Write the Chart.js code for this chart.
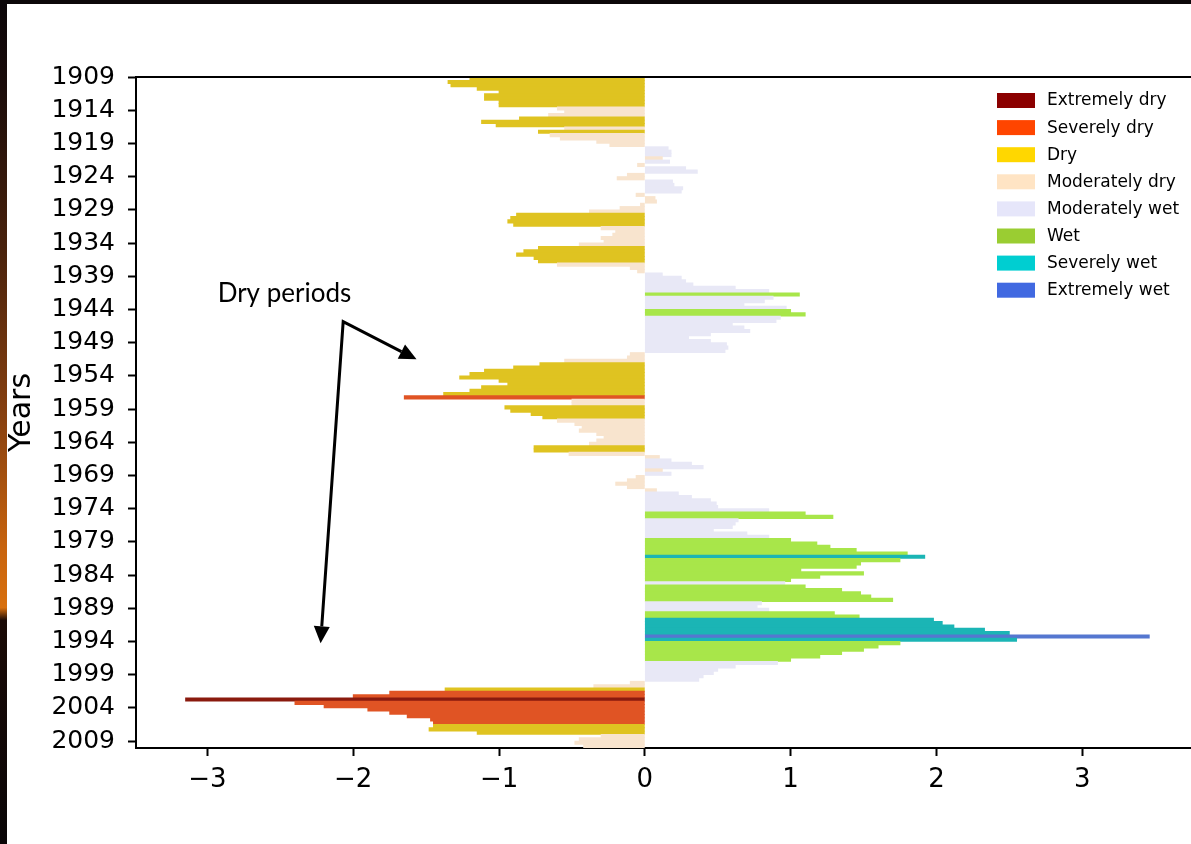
<!DOCTYPE html>
<html>
<head>
<meta charset="utf-8">
<title>Dry and wet periods 1909-2009</title>
<script src="https://cdn.jsdelivr.net/npm/chart.js@4.4.1/dist/chart.umd.min.js"></script>
<style>
  html, body { margin: 0; padding: 0; background: #fff; overflow: hidden; }
  #wrap { position: relative; width: 1191px; height: 844px; }
  #spiChart { position: absolute; left: 0; top: 0; }
  #frameLeft {
    position: absolute; left: 0; top: 0; width: 7px; height: 844px;
    background: linear-gradient(to bottom, #0b0609 0%, #1a0c0a 10%, #4a220c 30%, #8a4210 50%,
      #c8640e 65%, #d8700e 72%, #1a0a06 73.5%, #0a0607 100%);
  }
  #frameTop { position: absolute; left: 0; top: 0; width: 1191px; height: 4px; background: #0c0709; }
</style>
</head>
<body>
<div id="wrap">
  <canvas id="spiChart" width="1191" height="844"></canvas>
  <div id="frameLeft"></div>
  <div id="frameTop"></div>
</div>
<script>
// Half-year steps, first bar starts in 1909
const startYear = 1909;
const stepsPerYear = 2;

// Index value for each half year
const spiValues = [
  -1.2, -1.35, -1.33, -1.15, -1.0, -1.1, -1.1, -1.0, -1.0, -0.6,
  -0.55, -0.66, -0.86, -1.12, -1.02, -0.55, -0.73, -0.65, -0.58, -0.33,
  -0.24, 0.16, 0.18, 0.18, 0.12, 0.17, -0.05, 0.28, 0.36, -0.12,
  -0.19, 0.19, 0.2, 0.26, 0.25, -0.06, 0.07, 0.08, -0.03, -0.17,
  -0.38, -0.88, -0.92, -0.94, -0.9, -0.3, -0.2, -0.22, -0.3, -0.28,
  -0.45, -0.73, -0.83, -0.88, -0.76, -0.73, -0.6, -0.1, -0.05, 0.12,
  0.25, 0.28, 0.33, 0.62, 0.85, 1.06, 0.88, 0.82, 0.68, 0.97,
  1.0, 1.1, 0.93, 0.9, 0.6, 0.68, 0.72, 0.45, 0.3, 0.45,
  0.56, 0.57, 0.55, -0.1, -0.12, -0.55, -0.72, -0.9, -1.1, -1.2,
  -1.27, -1.0, -0.94, -1.12, -1.2, -1.38, -1.65, -0.5, -0.5, -0.96,
  -0.92, -0.78, -0.7, -0.6, -0.48, -0.43, -0.45, -0.33, -0.28, -0.33,
  -0.38, -0.76, -0.76, -0.52, 0.1, 0.18, 0.32, 0.4, 0.12, 0.18,
  -0.06, -0.12, -0.2, -0.12, 0.08, 0.23, 0.32, 0.45, 0.49, 0.5,
  0.85, 1.1, 1.29, 0.64, 0.62, 0.6, 0.47, 0.7, 0.85, 1.0,
  1.18, 1.27, 1.45, 1.8, 1.92, 1.75, 1.48, 1.45, 1.07, 1.5,
  1.2, 1.0, 0.96, 1.1, 1.35, 1.48, 1.55, 1.7, 0.8, 0.77,
  0.85, 1.3, 1.47, 1.98, 2.04, 2.12, 2.33, 2.5, 3.46, 2.55,
  1.75, 1.6, 1.5, 1.35, 1.2, 1.0, 0.91, 0.62, 0.5, 0.47,
  0.4, 0.37, -0.1, -0.35, -1.37, -1.75, -2.0, -3.15, -2.4, -2.2,
  -1.9, -1.75, -1.63, -1.47, -1.45, -1.45, -1.48, -1.15, -0.3, -0.45,
  -0.48, -0.42
];

// Class of each half year
const spiClass = [
  'D', 'D', 'D', 'D', 'D', 'D', 'D', 'D', 'D', 'MD',
  'MD', 'MD', 'D', 'D', 'D', 'MD', 'D', 'MD', 'MD', 'MD',
  'MD', 'MW', 'MW', 'MW', 'MD', 'MW', 'MD', 'MW', 'MW', 'MD',
  'MD', 'MW', 'MW', 'MW', 'MW', 'MD', 'MD', 'MD', 'MD', 'MD',
  'MD', 'D', 'D', 'D', 'D', 'MD', 'MD', 'MD', 'MD', 'MD',
  'MD', 'D', 'D', 'D', 'D', 'D', 'MD', 'MD', 'MD', 'MW',
  'MW', 'MW', 'MW', 'MW', 'MW', 'W', 'MW', 'MW', 'MW', 'MW',
  'W', 'W', 'MW', 'MW', 'MW', 'MW', 'MW', 'MW', 'MW', 'MW',
  'MW', 'MW', 'MW', 'MD', 'MD', 'MD', 'D', 'D', 'D', 'D',
  'D', 'D', 'D', 'D', 'D', 'D', 'SD', 'MD', 'MD', 'D',
  'D', 'D', 'D', 'MD', 'MD', 'MD', 'MD', 'MD', 'MD', 'MD',
  'MD', 'D', 'D', 'MD', 'MD', 'MW', 'MW', 'MW', 'MD', 'MW',
  'MD', 'MD', 'MD', 'MD', 'MD', 'MW', 'MW', 'MW', 'MW', 'MW',
  'MW', 'W', 'W', 'MW', 'MW', 'MW', 'MW', 'MW', 'MW', 'W',
  'W', 'W', 'W', 'W', 'SW', 'W', 'W', 'W', 'W', 'W',
  'W', 'W', 'MW', 'W', 'W', 'W', 'W', 'W', 'MW', 'MW',
  'MW', 'W', 'W', 'SW', 'SW', 'SW', 'SW', 'SW', 'EW', 'SW',
  'W', 'W', 'W', 'W', 'W', 'W', 'MW', 'MW', 'MW', 'MW',
  'MW', 'MW', 'MD', 'MD', 'D', 'SD', 'SD', 'ED', 'SD', 'SD',
  'SD', 'SD', 'SD', 'SD', 'SD', 'D', 'D', 'D', 'MD', 'MD',
  'MD', 'MD'
];

const classCodes = ['ED', 'SD', 'D', 'MD', 'MW', 'W', 'SW', 'EW'];
const classNames = ['Extremely dry', 'Severely dry', 'Dry', 'Moderately dry',
  'Moderately wet', 'Wet', 'Severely wet', 'Extremely wet'];

const yearTicks = [1909, 1914, 1919, 1924, 1929, 1934, 1939, 1944, 1949, 1954,
  1959, 1964, 1969, 1974, 1979, 1984, 1989, 1994, 1999, 2004, 2009];
const spiTicks = [-3, -2, -1, 0, 1, 2, 3];

// "Dry periods" note and its arrows, in data units
const noteText = 'Dry periods';
const notePos = { x: -2.93, y: 1942.9 };
const arrowStart = { x: -2.069, y: 1945.85 };
const arrowTips = [{ x: -1.566, y: 1951.52 }, { x: -2.224, y: 1994.29 }];

// colours: the bars look a little duller than the legend keys
const barColors = { ED: '#8a1a0e', SD: '#e05424', D: '#dfc321', MD: '#f8e4ce',
  MW: '#e8e8f6', W: '#a8e64a', SW: '#1bb5b5', EW: '#5577d0' };
const legendColors = { ED: '#8b0000', SD: '#ff4500', D: '#ffd700', MD: '#ffe4c4',
  MW: '#e6e6fa', W: '#9acd32', SW: '#00ced1', EW: '#4169e1' };

const barData = spiValues.map((v, i) => ({ x: v, y: startYear + (i + 0.5) / stepsPerYear }));

Chart.defaults.font.family = "'DejaVu Sans', sans-serif";
Chart.defaults.color = '#000';

// top spine (chart.js only draws the axis borders)
const topBorder = {
  id: 'topBorder',
  afterDraw(chart) {
    const { ctx, chartArea } = chart;
    ctx.save();
    ctx.strokeStyle = '#000';
    ctx.lineWidth = 2;
    ctx.beginPath();
    ctx.moveTo(chartArea.left, chartArea.top);
    ctx.lineTo(chartArea.right, chartArea.top);
    ctx.stroke();
    ctx.restore();
  }
};

// legend inside the plot, top right
const classLegend = {
  id: 'classLegend',
  afterDraw(chart) {
    const { ctx, chartArea } = chart;
    const left = chartArea.right - 194;
    const top = chartArea.top + 16;
    ctx.save();
    ctx.font = "17px 'DejaVu Sans'";
    ctx.textBaseline = 'middle';
    classCodes.forEach((code, i) => {
      const y = top + i * 27.1;
      ctx.fillStyle = legendColors[code];
      ctx.fillRect(left, y, 38, 15);
      ctx.fillStyle = '#000';
      ctx.fillText(classNames[i], left + 50, y + 8);
    });
    ctx.restore();
  }
};

// the "Dry periods" note with two arrows
const dryNote = {
  id: 'dryNote',
  afterDraw(chart) {
    const { ctx, scales: { x, y } } = chart;
    ctx.save();
    ctx.font = '26px Lato';
    ctx.fillStyle = '#000';
    ctx.fillText(noteText, x.getPixelForValue(notePos.x), y.getPixelForValue(notePos.y));

    const sx = x.getPixelForValue(arrowStart.x);
    const sy = y.getPixelForValue(arrowStart.y);
    const headLen = 17, headHalf = 8;
    const heads = arrowTips.map(t => {
      const tx = x.getPixelForValue(t.x), ty = y.getPixelForValue(t.y);
      const ang = Math.atan2(ty - sy, tx - sx);
      return { tx, ty, ang, bx: tx - headLen * Math.cos(ang), by: ty - headLen * Math.sin(ang) };
    });
    ctx.strokeStyle = '#000';
    ctx.lineWidth = 3;
    ctx.lineJoin = 'miter';
    ctx.beginPath();
    ctx.moveTo(heads[0].bx, heads[0].by);
    ctx.lineTo(sx, sy);
    ctx.lineTo(heads[1].bx, heads[1].by);
    ctx.stroke();
    heads.forEach(h => {
      ctx.beginPath();
      ctx.moveTo(h.tx, h.ty);
      ctx.lineTo(h.bx + headHalf * Math.sin(h.ang), h.by - headHalf * Math.cos(h.ang));
      ctx.lineTo(h.bx - headHalf * Math.sin(h.ang), h.by + headHalf * Math.cos(h.ang));
      ctx.closePath();
      ctx.fill();
    });
    ctx.restore();
  }
};

const ctx = document.getElementById('spiChart').getContext('2d');
const spiChart = new Chart(ctx, {
  type: 'bar',
  data: {
    datasets: [{
      data: barData,
      backgroundColor: spiClass.map(c => barColors[c]),
      borderWidth: 0,
      barPercentage: 1,
      categoryPercentage: 1,
      inflateAmount: 0.4
    }]
  },
  options: {
    indexAxis: 'y',
    responsive: false,
    animation: false,
    events: [],
    layout: { padding: { top: 77, left: 0, right: 0, bottom: 0 } },
    plugins: {
      legend: { display: false },
      tooltip: { enabled: false }
    },
    scales: {
      x: {
        type: 'linear',
        min: -3.49,
        max: 3.746,
        afterBuildTicks: s => { s.ticks = spiTicks.map(v => ({ value: v })); },
        afterFit: s => { s.height = 96; },
        ticks: {
          color: '#000',
          font: { size: 26 },
          padding: 9,
          callback: v => (v < 0 ? '\u2212' + Math.abs(v) : String(v))
        },
        grid: { offset: false, drawOnChartArea: false, tickLength: 8, tickColor: '#000', tickWidth: 2 },
        border: { color: '#000', width: 2 }
      },
      y: {
        type: 'linear',
        reverse: true,
        offset: false,
        min: 1909,
        max: 2010.05,
        afterBuildTicks: s => { s.ticks = yearTicks.map(v => ({ value: v })); },
        afterFit: s => { s.width = 136; },
        ticks: {
          color: '#000',
          font: { size: 25 },
          padding: 13,
          callback: v => String(v)
        },
        grid: { offset: false, drawOnChartArea: false, tickLength: 8, tickColor: '#000', tickWidth: 2 },
        border: { color: '#000', width: 2 },
        title: { display: true, text: 'Years', color: '#000', font: { size: 30 }, padding: { top: 4 } }
      }
    }
  },
  plugins: [topBorder, classLegend, dryNote]
});
</script>
</body>
</html>
